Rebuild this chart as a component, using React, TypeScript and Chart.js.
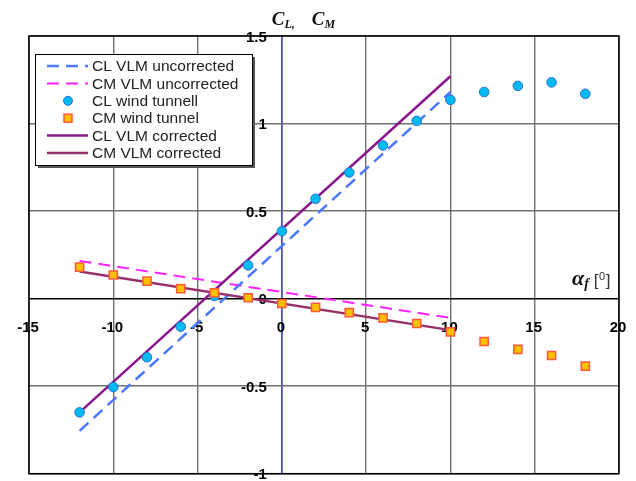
import React, { useEffect, useRef } from 'react';
import { Chart, registerables } from 'chart.js';

Chart.register(...registerables);

// ---- data ----
const alphaWindTunnel = [-12, -10, -8, -6, -4, -2, 0, 2, 4, 6, 8, 10, 12, 14, 16, 18];
const clWindTunnel = [-0.65, -0.505, -0.335, -0.16, 0.015, 0.19, 0.385, 0.57, 0.72, 0.875, 1.015, 1.135, 1.18, 1.215, 1.235, 1.17];
const cmWindTunnel = [0.18, 0.135, 0.1, 0.057, 0.033, 0.005, -0.028, -0.05, -0.08, -0.11, -0.142, -0.19, -0.245, -0.29, -0.325, -0.385];

const alphaVLM = [-12, 10];
const clVlmUncorrected = [-0.755, 1.18];
const cmVlmUncorrected = [0.215, -0.11];
const clVlmCorrected = [-0.65, 1.27];
const cmVlmCorrected = [0.155, -0.18];

const xTickValues = [-15, -10, -5, 0, 5, 10, 15, 20];
const xTickLabels = ['-15', '-10', '-5', '0', '5', '10', '15', '20'];
const yTickValues = [-1, -0.5, 0, 0.5, 1, 1.5];
const yTickLabels = ['-1', '-0.5', '0', '0.5', '1', '1.5'];

const seriesLabels = [
  'CL VLM uncorrected',
  'CM VLM uncorrected',
  'CL wind tunnell',
  'CM wind tunnel',
  'CL VLM corrected',
  'CM VLM corrected',
];

const pts = (xs: number[], ys: number[]) => xs.map((x, i) => ({ x, y: ys[i] }));

const SANS = '"Liberation Sans", Arial, sans-serif';
const SERIF = '"Liberation Serif", "Times New Roman", serif';

const decorPlugin = {
  id: 'decor',
  beforeDatasetsDraw(chart: any) {
    const { ctx, chartArea, scales } = chart;
    const xs = scales.x;
    const ys = scales.y;
    const x0 = xs.getPixelForValue(0);
    const y0 = ys.getPixelForValue(0);
    ctx.save();
    // frame
    ctx.strokeStyle = '#000';
    ctx.lineWidth = 1.5;
    ctx.strokeRect(chartArea.left, chartArea.top, chartArea.right - chartArea.left, chartArea.bottom - chartArea.top);
    // tick labels
    ctx.fillStyle = '#000';
    ctx.font = 'bold 15px ' + SANS;
    ctx.textAlign = 'center';
    ctx.textBaseline = 'alphabetic';
    xTickValues.forEach((v, i) => {
      ctx.fillText(xTickLabels[i], xs.getPixelForValue(v) - 1, y0 + 33);
    });
    ctx.textAlign = 'right';
    yTickValues.forEach((v, i) => {
      ctx.fillText(yTickLabels[i], x0 - 15, ys.getPixelForValue(v) + 5.5);
    });
    // y title C_L, C_M
    ctx.textAlign = 'left';
    ctx.fillStyle = '#111';
    const tb = chartArea.top - 11;
    let tx = x0 - 10;
    ctx.font = 'italic bold 19px ' + SERIF;
    ctx.fillText('C', tx, tb);
    tx += ctx.measureText('C').width;
    ctx.font = 'italic bold 12px ' + SERIF;
    ctx.fillText('L', tx, tb + 3);
    tx += ctx.measureText('L').width;
    ctx.fillText(',', tx, tb + 3);
    tx = x0 + 30;
    ctx.font = 'italic bold 19px ' + SERIF;
    ctx.fillText('C', tx, tb);
    tx += ctx.measureText('C').width;
    ctx.font = 'italic bold 12px ' + SERIF;
    ctx.fillText('M', tx, tb + 3);
    // x title alpha_f [0]
    let ax = chartArea.right - 47;
    const ab = y0 - 14;
    ctx.font = 'italic bold 22px ' + SERIF;
    ctx.fillText('α', ax, ab);
    ax += ctx.measureText('α').width;
    ctx.font = 'italic bold 14px ' + SERIF;
    ctx.fillText('f', ax, ab + 3);
    ax += ctx.measureText('f').width + 5;
    ctx.fillStyle = '#333';
    ctx.font = '17px ' + SANS;
    ctx.fillText('[', ax, ab + 1);
    ax += ctx.measureText('[').width + 0.5;
    ctx.font = '11px ' + SANS;
    ctx.fillText('0', ax, ab - 5);
    ax += ctx.measureText('0').width + 0.5;
    ctx.font = '17px ' + SANS;
    ctx.fillText(']', ax, ab + 1);
    ctx.restore();
  },
  afterDraw(chart: any) {
    const { ctx, chartArea } = chart;
    const left = chartArea.left + 6;
    const top = chartArea.top + 18;
    const w = 217;
    const h = 111;
    ctx.save();
    // shadow
    ctx.fillStyle = '#555';
    ctx.fillRect(left + 3, top + 3, w, h);
    ctx.fillStyle = '#fff';
    ctx.fillRect(left, top, w, h);
    ctx.strokeStyle = '#000';
    ctx.lineWidth = 1;
    ctx.strokeRect(left + 0.5, top + 0.5, w, h);
    const datasets = chart.data.datasets;
    datasets.forEach((ds: any, i: number) => {
      const cy = top + 12 + i * 17.4;
      const sx0 = left + 12;
      const sx1 = left + 53;
      if (ds.showLine) {
        ctx.save();
        ctx.strokeStyle = ds.borderColor;
        ctx.lineWidth = ds.borderWidth;
        ctx.setLineDash(ds.borderDash || []);
        ctx.beginPath();
        ctx.moveTo(sx0, cy);
        ctx.lineTo(sx1, cy);
        ctx.stroke();
        ctx.restore();
      } else {
        const cx = (sx0 + sx1) / 2 + 0.5;
        ctx.save();
        ctx.fillStyle = ds.backgroundColor;
        ctx.strokeStyle = ds.borderColor;
        ctx.lineWidth = ds.borderWidth;
        if (ds.pointStyle === 'rect') {
          const s = 8;
          ctx.fillRect(cx - s / 2, cy - s / 2, s, s);
          ctx.strokeRect(cx - s / 2, cy - s / 2, s, s);
        } else {
          ctx.beginPath();
          ctx.arc(cx, cy, 4.5, 0, Math.PI * 2);
          ctx.fill();
          ctx.stroke();
        }
        ctx.restore();
      }
      ctx.fillStyle = '#222';
      ctx.font = '15.5px ' + SANS;
      ctx.textAlign = 'left';
      ctx.textBaseline = 'middle';
      ctx.fillText(ds.label, left + 57, cy + 1);
    });
    ctx.restore();
  },
};

export default function App() {
  const ref = useRef<HTMLCanvasElement | null>(null);
  useEffect(() => {
    if (!ref.current) return;
    const chart = new Chart(ref.current, {
      type: 'scatter',
      data: {
        datasets: [
          {
            label: seriesLabels[0],
            data: pts(alphaVLM, clVlmUncorrected),
            showLine: true,
            borderColor: '#4a78ff',
            borderWidth: 2.5,
            borderDash: [12, 7],
            pointRadius: 0,
            order: 5,
          },
          {
            label: seriesLabels[1],
            data: pts(alphaVLM, cmVlmUncorrected),
            showLine: true,
            borderColor: '#ff22ff',
            borderWidth: 2,
            borderDash: [12, 7],
            pointRadius: 0,
            order: 6,
          },
          {
            label: seriesLabels[2],
            data: pts(alphaWindTunnel, clWindTunnel),
            showLine: false,
            pointStyle: 'circle',
            pointRadius: 4.8,
            backgroundColor: '#00baf2',
            borderColor: '#2e6fd0',
            borderWidth: 1,
            order: 2,
          },
          {
            label: seriesLabels[3],
            data: pts(alphaWindTunnel, cmWindTunnel),
            showLine: false,
            pointStyle: 'rect',
            pointRadius: 5.8,
            backgroundColor: '#ffc000',
            borderColor: '#ff5a3a',
            borderWidth: 1.5,
            order: 1,
          },
          {
            label: seriesLabels[4],
            data: pts(alphaVLM, clVlmCorrected),
            showLine: true,
            borderColor: '#8a178a',
            borderWidth: 2.5,
            pointRadius: 0,
            order: 3,
          },
          {
            label: seriesLabels[5],
            data: pts(alphaVLM, cmVlmCorrected),
            showLine: true,
            borderColor: '#95306a',
            borderWidth: 2.5,
            pointRadius: 0,
            order: 4,
          },
        ],
      },
      options: {
        animation: false,
        responsive: false,
        maintainAspectRatio: false,
        layout: { padding: { left: 29, top: 36, right: 17, bottom: 5 } },
        plugins: {
          legend: { display: false },
          tooltip: { enabled: false },
          title: { display: false },
        },
        scales: {
          x: {
            type: 'linear',
            min: -15,
            max: 20,
            ticks: { stepSize: 5, display: false },
            border: { display: false },
            grid: {
              drawTicks: false,
              color: (c: any) => (c.tick && c.tick.value === 0 ? '#5050c4' : '#707070'),
              lineWidth: (c: any) => (c.tick && c.tick.value === 0 ? 1.8 : 1.4),
            },
          },
          y: {
            type: 'linear',
            min: -1,
            max: 1.5,
            ticks: { stepSize: 0.5, display: false },
            border: { display: false },
            grid: {
              drawTicks: false,
              color: (c: any) => (c.tick && c.tick.value === 0 ? '#000000' : '#707070'),
              lineWidth: (c: any) => (c.tick && c.tick.value === 0 ? 1.6 : 1.4),
            },
          },
        },
      },
      plugins: [decorPlugin],
    });
    return () => chart.destroy();
  }, []);
  return (
    <div style={{ position: 'fixed', left: 0, top: 0, width: 636, height: 481, background: '#fff' }}>
      <canvas ref={ref} width={636} height={481} style={{ display: 'block', width: 636, height: 481 }} />
    </div>
  );
}
